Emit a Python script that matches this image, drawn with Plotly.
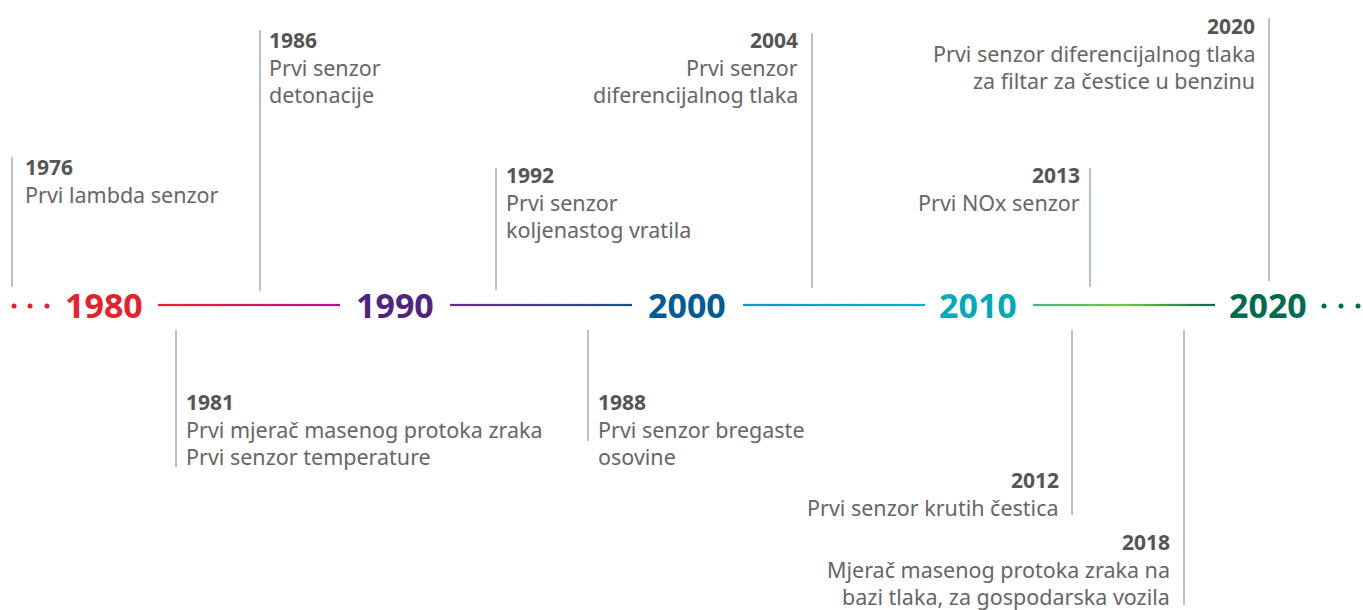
import plotly.graph_objects as go

# ---------------- data ----------------
decades = ["1980", "1990", "2000", "2010", "2020"]
decade_colors = ["#e8202a", "#502580", "#005a94", "#00aab9", "#006b4e"]

event_years = ["1976", "1986", "1992", "2004", "2013", "2020",
               "1981", "1988", "2012", "2018"]
event_lines = [
    ["Prvi lambda senzor"],
    ["Prvi senzor", "detonacije"],
    ["Prvi senzor", "koljenastog vratila"],
    ["Prvi senzor", "diferencijalnog tlaka"],
    ["Prvi NOx senzor"],
    ["Prvi senzor diferencijalnog tlaka", "za filtar za čestice u benzinu"],
    ["Prvi mjerač masenog protoka zraka", "Prvi senzor temperature"],
    ["Prvi senzor bregaste", "osovine"],
    ["Prvi senzor krutih čestica"],
    ["Mjerač masenog protoka zraka na", "bazi tlaka, za gospodarska vozila"],
]

# ---------------- layout (pixel coordinates of the illustration) ----------------
axis_y = 305
decade_x = [104, 395, 687, 978, 1268]
connector_x = [(158, 340), (450, 632), (743, 925), (1033, 1215)]
connector_colors = [["#e8202a", "#b3128c"],
                    ["#6e2a8e", "#1b4f8b"],
                    ["#1790d2", "#00b4c6"],
                    ["#45b57e", "#7dc242", "#006e50"]]
left_dots_x = [14, 30, 47]
right_dots_x = [1324, 1341, 1358]

stem_x = [12, 260, 496, 812, 1090, 1269, 176, 588, 1072, 1184]
stem_top = [157, 30, 168, 33, 168, 18, 330, 330, 330, 330]
stem_bottom = [287, 291, 290, 288, 287, 281, 467, 441, 515, 605]
text_x = [23, 267, 504, 800, 1082, 1257, 184, 596, 1061, 1172]
text_anchor = ["left", "left", "left", "right", "right", "right",
               "left", "left", "right", "right"]
year_y = [167, 40, 175, 40, 175, 26, 402, 402, 480, 542]
line_gap = 27.3

FONT = "Noto Sans"
TXT = "#666666"
YEAR_TXT = "#555555"
STEM = "#75828e"

fig = go.Figure()


def hex2rgb(h):
    h = h.lstrip("#")
    return tuple(int(h[i:i + 2], 16) for i in (0, 2, 4))


def lerp_color(stops, t):
    n = len(stops) - 1
    seg = min(int(t * n), n - 1)
    lt = t * n - seg
    a, b = hex2rgb(stops[seg]), hex2rgb(stops[seg + 1])
    return "rgb(%d,%d,%d)" % tuple(round(a[i] + (b[i] - a[i]) * lt) for i in range(3))


shapes = []
# gradient connectors
N = 60
for (x0, x1), stops in zip(connector_x, connector_colors):
    for i in range(N):
        a = x0 + (x1 - x0) * i / N
        b = x0 + (x1 - x0) * (i + 1) / N + 0.6
        shapes.append(dict(type="line", xref="x", yref="y", x0=a, x1=min(b, x1),
                           y0=axis_y, y1=axis_y,
                           line=dict(color=lerp_color(stops, (i + 0.5) / N), width=2.2)))

# stems
for sx, st, sb in zip(stem_x, stem_top, stem_bottom):
    fig.add_trace(go.Scatter(x=[sx, sx], y=[st, sb], mode="lines",
                             line=dict(color=STEM, width=1), hoverinfo="skip",
                             showlegend=False))

# dots
fig.add_trace(go.Scatter(x=left_dots_x, y=[axis_y + 1] * 3, mode="markers",
                         marker=dict(color=decade_colors[0], size=5),
                         hoverinfo="skip", showlegend=False, cliponaxis=False))
fig.add_trace(go.Scatter(x=right_dots_x, y=[axis_y + 1] * 3, mode="markers",
                         marker=dict(color=decade_colors[-1], size=5),
                         hoverinfo="skip", showlegend=False, cliponaxis=False))

annotations = []
for d, c, x in zip(decades, decade_colors, decade_x):
    annotations.append(dict(x=x, y=axis_y, xref="x", yref="y", text="<b>%s</b>" % d,
                            showarrow=False, xanchor="center", yanchor="middle",
                            font=dict(family=FONT, size=34, color=c)))

for yr, lines, tx, anc, yy in zip(event_years, event_lines, text_x, text_anchor, year_y):
    annotations.append(dict(x=tx, y=yy, xref="x", yref="y", text="<b>%s</b>" % yr,
                            showarrow=False, xanchor=anc, yanchor="middle",
                            font=dict(family=FONT, size=21, color=YEAR_TXT)))
    for k, ln in enumerate(lines):
        annotations.append(dict(x=tx, y=yy + line_gap * (k + 1), xref="x", yref="y",
                                text=ln, showarrow=False, xanchor=anc, yanchor="middle",
                                font=dict(family=FONT, size=21.5, color=TXT)))

fig.update_layout(
    width=1363, height=610,
    margin=dict(l=0, r=0, t=0, b=0, pad=0),
    paper_bgcolor="white", plot_bgcolor="white",
    xaxis=dict(range=[0, 1363], visible=False, fixedrange=True),
    yaxis=dict(range=[610, 0], visible=False, fixedrange=True),
    shapes=shapes, annotations=annotations, showlegend=False,
)

fig.write_html("out.html", config={"displayModeBar": False},
               post_script="document.body.style.margin='0';document.body.style.overflow='hidden';")
